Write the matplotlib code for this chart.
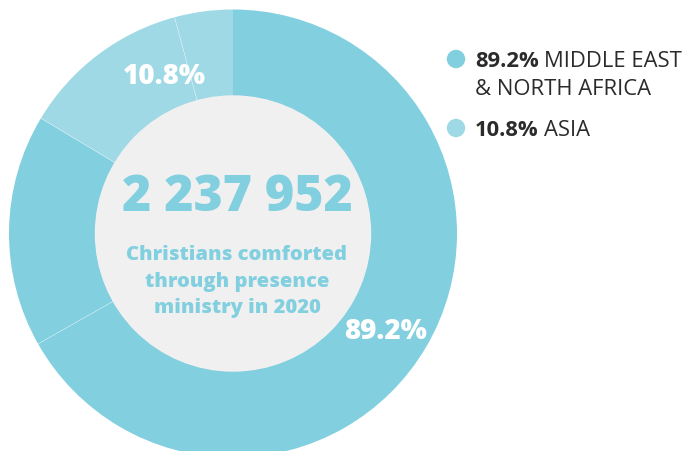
import numpy as np
import matplotlib
matplotlib.use('Agg')
import matplotlib.pyplot as plt
from matplotlib.patches import Circle

plt.rcParams['font.family'] = ['Open Sans', 'DejaVu Sans']

# data
regions = ['MIDDLE EAST\n& NORTH AFRICA', 'ASIA']
region_pct = [89.2, 10.8]
slice_share = [66.8, 16.8, 12.2, 4.2]     # wedges as drawn, clockwise from 12 o'clock
slice_region = [0, 0, 1, 1]
total_label = '2 237 952'
caption = 'Christians comforted\nthrough presence\nministry in 2020'

region_colors = ['#82d0df', '#9fd9e5']
text_dark = '#2b2b2b'

W, H = 687, 452
fig = plt.figure(figsize=(W / 100, H / 100), dpi=100)
ax = fig.add_axes([0, 0, 1, 1])

cx, cy = 233, H - 234.5
r_out, r_in = 224, 137.5

ax.pie(slice_share, colors=[region_colors[i] for i in slice_region],
       startangle=90, counterclock=False, radius=r_out, center=(cx, cy),
       wedgeprops=dict(width=r_out - r_in, linewidth=0))

# thin separators between wedges (none at 12 o'clock)
cum = np.cumsum(slice_share)[:-1]
for c in cum:
    th = np.deg2rad(90 - 360 * c / 100)
    ax.plot([cx + r_in * np.cos(th), cx + r_out * np.cos(th)],
            [cy + r_in * np.sin(th), cy + r_out * np.sin(th)],
            color='white', lw=0.5, alpha=0.45, zorder=3)

ax.add_patch(Circle((cx, cy), r_in, color='#f0f0f0', zorder=4))

# centre text
ax.text(237, H - 198.5, total_label, ha='center', va='center', fontsize=36,
        fontweight='heavy', color=region_colors[0], zorder=5)
ax.text(237, H - 281.5, caption, ha='center', va='center', fontsize=14.5,
        fontweight='heavy', color=region_colors[0], linespacing=1.4, zorder=5)

# percentage labels on the ring
ax.text(164, H - 76.5, f'{region_pct[1]}%', ha='center', va='center',
        fontsize=20, fontweight='heavy', color='white', zorder=5)
ax.text(385.5, H - 331.5, f'{region_pct[0]}%', ha='center', va='center',
        fontsize=20, fontweight='heavy', color='white', zorder=5)

ax.set_xlim(0, W)
ax.set_ylim(0, H)
ax.axis('off')

# legend
fig.canvas.draw()
renderer = fig.canvas.get_renderer()
legend_y = [67, 136]
for i, (name, pct) in enumerate(zip(regions, region_pct)):
    ax.add_patch(Circle((456, H - legend_y[i] + 7), 8.5, color=region_colors[i]))
    t = ax.text(475, H - legend_y[i], f'{pct}%', ha='left', va='baseline',
                fontsize=15.8, fontweight='bold', color=text_dark)
    bb = t.get_window_extent(renderer=renderer)
    lines = name.split('\n')
    ax.text(bb.x1 + 5, H - legend_y[i], lines[0], ha='left', va='baseline',
            fontsize=15.8, color=text_dark)
    for k, extra in enumerate(lines[1:]):
        ax.text(475, H - legend_y[i] - 28 * (k + 1), extra, ha='left',
                va='baseline', fontsize=15.8, color=text_dark)

fig.savefig('out.png', dpi=100)
